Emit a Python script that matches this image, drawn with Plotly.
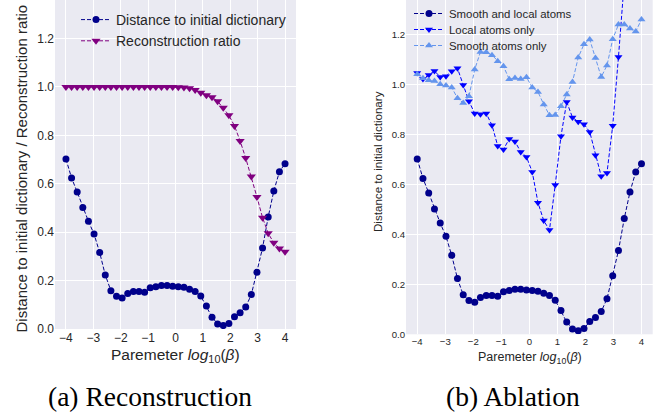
import plotly.graph_objects as go

# x positions (40 evenly spaced values of log10(beta) from -4 to 4)
beta_log = [-4.0, -3.795, -3.59, -3.385, -3.179, -2.974, -2.769, -2.564, -2.359, -2.154,
            -1.949, -1.744, -1.538, -1.333, -1.128, -0.923, -0.718, -0.513, -0.308, -0.103,
            0.103, 0.308, 0.513, 0.718, 0.923, 1.128, 1.333, 1.538, 1.744, 1.949,
            2.154, 2.359, 2.564, 2.769, 2.974, 3.179, 3.385, 3.59, 3.795, 4.0]

distance = [0.702, 0.624, 0.566, 0.502, 0.445, 0.392, 0.316, 0.223, 0.158, 0.135,
            0.128, 0.147, 0.155, 0.155, 0.152, 0.170, 0.175, 0.180, 0.180, 0.177,
            0.175, 0.172, 0.164, 0.155, 0.136, 0.095, 0.049, 0.021, 0.014, 0.023,
            0.051, 0.067, 0.091, 0.142, 0.234, 0.335, 0.463, 0.570, 0.650, 0.683]

recon_ratio = [1.0, 1.0, 1.0, 1.0, 1.0, 1.0, 1.0, 1.0, 1.0, 1.0,
               1.0, 1.0, 1.0, 1.0, 1.0, 1.0, 1.0, 1.0, 1.0, 1.0,
               0.999, 0.998, 0.994, 0.987, 0.976, 0.966, 0.957, 0.941, 0.914, 0.883,
               0.839, 0.777, 0.706, 0.630, 0.545, 0.460, 0.395, 0.356, 0.333, 0.319]

local_only = [1.046, 1.022, 1.038, 1.054, 1.030, 1.033, 1.053, 1.065, 0.998, 0.933,
              0.884, 0.881, 0.884, 0.837, 0.754, 0.740, 0.782, 0.772, 0.730, 0.710,
              0.650, 0.527, 0.455, 0.417, 0.598, 0.793, 0.930, 0.868, 0.851, 0.841,
              0.810, 0.717, 0.633, 0.646, 0.835, 1.110, 1.410, 1.450, 1.500, 1.480]

smooth_only = [1.041, 1.025, 1.017, 1.014, 1.001, 0.996, 0.988, 0.945, 0.926, 0.953,
               1.060, 1.130, 1.129, 1.117, 1.093, 1.073, 1.021, 1.026, 1.022, 1.029,
               0.988, 0.970, 0.920, 0.877, 0.878, 0.913, 0.960, 1.010, 1.108, 1.161,
               1.180, 1.106, 1.030, 1.076, 1.181, 1.240, 1.240, 1.224, 1.212, 1.260]

x_ticks = [-4, -3, -2, -1, 0, 1, 2, 3, 4]
x_ticktext = ["\u22124", "\u22123", "\u22122", "\u22121", "0", "1", "2", "3", "4"]
y_ticks = [0, 0.2, 0.4, 0.6, 0.8, 1.0, 1.2]
y_ticktext = ["0.0", "0.2", "0.4", "0.6", "0.8", "1.0", "1.2"]

W, H = 660, 413
FONT = "Liberation Sans, Arial, sans-serif"
SERIF = "Liberation Serif, Times New Roman, serif"
TXT = "#262626"
BG = "#EAEAF2"
DASH = "4px,2px"

fig = go.Figure()

# Panel (a)
fig.add_trace(go.Scatter(x=beta_log, y=distance, name="Distance to initial dictionary",
                         mode="lines+markers", xaxis="x", yaxis="y", legend="legend",
                         line=dict(color="#00008B", width=1, dash=DASH),
                         marker=dict(symbol="circle", size=7, color="#00008B")))
fig.add_trace(go.Scatter(x=beta_log, y=recon_ratio, name="Reconstruction ratio",
                         mode="lines+markers", xaxis="x", yaxis="y", legend="legend",
                         line=dict(color="#800080", width=1, dash=DASH),
                         marker=dict(symbol="triangle-down", size=8, color="#800080")))

# Panel (b)
fig.add_trace(go.Scatter(x=beta_log, y=distance, name="Smooth and local atoms",
                         mode="lines+markers", xaxis="x2", yaxis="y2", legend="legend2",
                         line=dict(color="#00008B", width=1, dash=DASH),
                         marker=dict(symbol="circle", size=7, color="#00008B")))
fig.add_trace(go.Scatter(x=beta_log, y=local_only, name="Local atoms only",
                         mode="lines+markers", xaxis="x2", yaxis="y2", legend="legend3",
                         line=dict(color="#0000FF", width=1, dash=DASH),
                         marker=dict(symbol="triangle-down", size=7, color="#0000FF")))
fig.add_trace(go.Scatter(x=beta_log, y=smooth_only, name="Smooth atoms only",
                         mode="lines+markers", xaxis="x2", yaxis="y2", legend="legend4",
                         line=dict(color="#6495ED", width=1, dash=DASH),
                         marker=dict(symbol="triangle-up", size=7, color="#6495ED")))

def px_x(p):
    return p / W

def px_y(p):
    return 1 - p / H

axis_common = dict(showgrid=True, gridcolor="white", gridwidth=1, zeroline=False,
                   showline=False, ticks="", color=TXT, automargin=False)

def small_legend(top):
    return dict(x=px_x(409), y=px_y(top), xanchor="left", yanchor="top",
                bgcolor="rgba(0,0,0,0)", font=dict(size=11.4, color=TXT),
                tracegroupgap=0, itemwidth=30)

fig.update_layout(
    width=W, height=H,
    margin=dict(l=0, r=0, t=0, b=0, autoexpand=False),
    paper_bgcolor="white",
    plot_bgcolor=BG,
    font=dict(family=FONT, color=TXT),
    xaxis=dict(domain=[px_x(55), px_x(296)], range=[-4.4, 4.4], anchor="y",
               tickvals=x_ticks, ticktext=x_ticktext, tickfont=dict(size=12),
               **axis_common),
    yaxis=dict(domain=[px_y(329), 1.0], range=[0, 1.359], anchor="x",
               tickvals=y_ticks, ticktext=y_ticktext,
               tickfont=dict(size=12), **axis_common),
    xaxis2=dict(domain=[px_x(406), px_x(652.7)], range=[-4.4, 4.4], anchor="y2",
                tickvals=x_ticks, ticktext=x_ticktext, tickfont=dict(size=9.6),
                **axis_common),
    yaxis2=dict(domain=[px_y(334.3), 1.0], range=[0, 1.338], anchor="x2",
                tickvals=y_ticks, ticktext=y_ticktext,
                tickfont=dict(size=9.6), **axis_common),
    legend=dict(x=px_x(76), y=px_y(4), xanchor="left", yanchor="top",
                bgcolor="rgba(0,0,0,0)", font=dict(size=14, color=TXT),
                tracegroupgap=0, itemwidth=30),
    legend2=small_legend(-1),
    legend3=small_legend(15),
    legend4=small_legend(31),
    showlegend=True,
)

annotations = [
    dict(text="Distance to initial dictionary / Reconstruction ratio", textangle=-90,
         x=px_x(20.5), y=px_y(169), font=dict(size=15, color=TXT)),
    dict(text="Distance to initial dictionary", textangle=-90,
         x=px_x(377), y=px_y(162), font=dict(size=11.6, color=TXT)),
    dict(text="Paremeter <i>log</i><sub>10</sub>(<i>\u03b2</i>)",
         x=px_x(175.5), y=px_y(355), font=dict(size=15.5, color=TXT)),
    dict(text="Paremeter <i>log</i><sub>10</sub>(<i>\u03b2</i>)",
         x=px_x(529.5), y=px_y(358), font=dict(size=12.5, color=TXT)),
    dict(text="(a) Reconstruction", x=px_x(150), y=px_y(396),
         font=dict(family=SERIF, size=27.5, color="black")),
    dict(text="(b) Ablation", x=px_x(513), y=px_y(396),
         font=dict(family=SERIF, size=27.5, color="black")),
]
for a in annotations:
    a.update(xref="paper", yref="paper", xanchor="center", yanchor="middle",
             showarrow=False)
fig.update_layout(annotations=annotations)

fig.write_html("out.html", config={"displayModeBar": False},
               post_script="document.body.style.margin='0';")
